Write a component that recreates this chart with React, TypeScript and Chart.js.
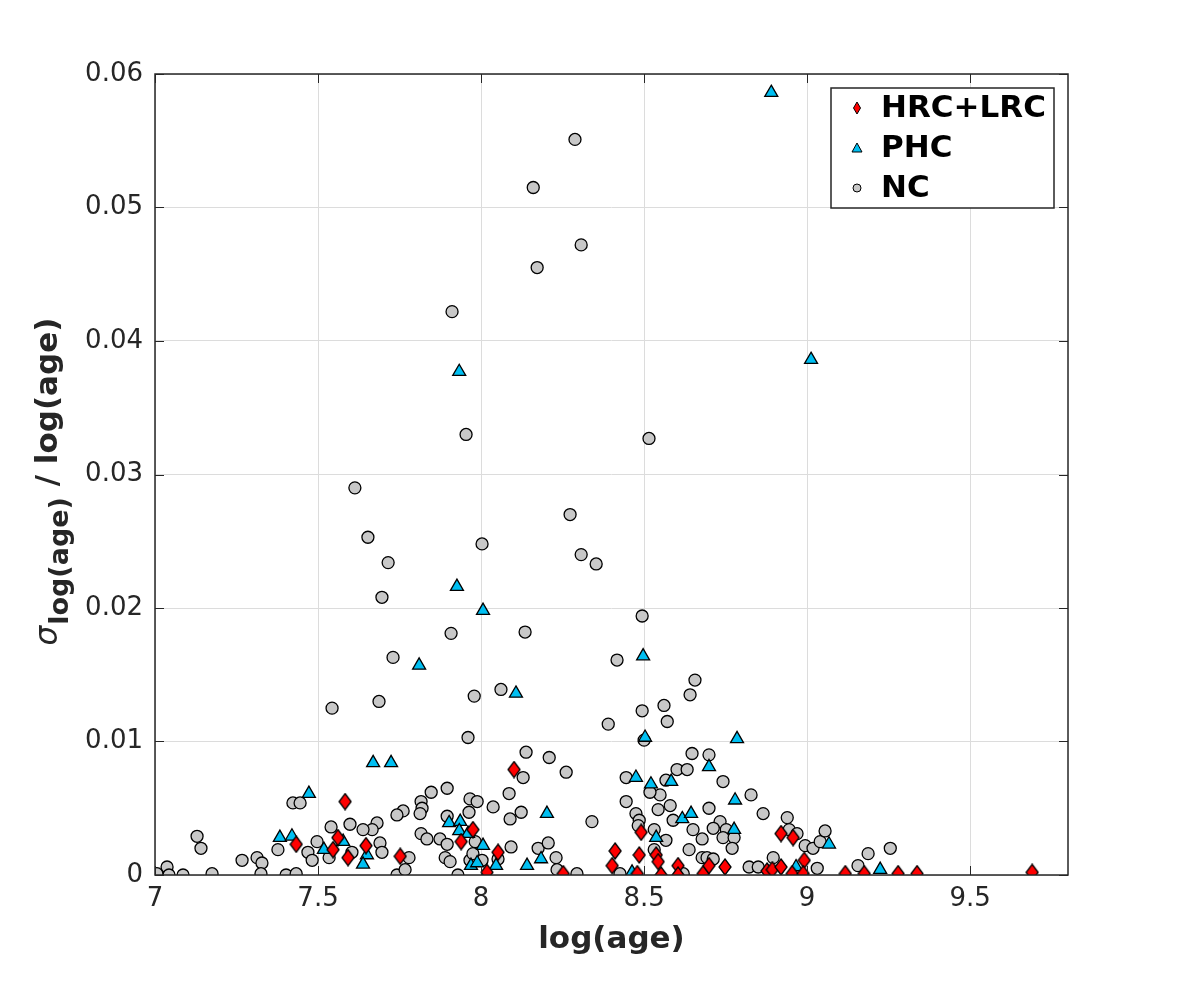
import React, { useEffect, useRef } from 'react';
import { Chart, registerables } from 'chart.js';
Chart.register(...registerables);

const xTicks = [7, 7.5, 8, 8.5, 9, 9.5];
const xTickLabels = ['7', '7.5', '8', '8.5', '9', '9.5'];
const yTicks = [0, 0.01, 0.02, 0.03, 0.04, 0.05, 0.06];
const yTickLabels = ['0', '0.01', '0.02', '0.03', '0.04', '0.05', '0.06'];
const seriesNames = ['HRC+LRC', 'PHC', 'NC'];

const hrcX = [8.101,7.583,7.433,7.561,7.546,7.592,7.647,7.975,7.939,8.052,7.752,8.018,8.252,8.491,8.920,8.957,8.411,8.485,8.537,8.543,8.402,8.479,8.552,8.604,8.604,8.681,8.699,8.748,8.877,8.893,8.920,8.954,8.991,8.988,9.117,9.175,9.279,9.337,9.690];
const hrcY = [0.0079,0.0055,0.0023,0.0028,0.0019,0.0013,0.0022,0.0034,0.0025,0.0017,0.0014,0.0002,0.0001,0.0032,0.0031,0.0028,0.0018,0.0015,0.0015,0.0010,0.0007,0.0001,0.0000,0.0007,0.0000,0.0001,0.0007,0.0006,0.0003,0.0004,0.0006,0.0001,0.0011,0.0001,0.0001,0.0001,0.0001,0.0001,0.0002];

const phcX = [8.890,9.012,7.933,7.926,8.006,8.497,7.810,8.107,8.503,8.785,7.669,7.724,8.699,8.475,8.521,8.583,8.779,8.617,8.644,8.776,8.537,8.966,8.463,9.067,9.224,7.472,7.383,7.420,7.518,7.577,7.650,7.638,8.202,7.902,7.936,7.933,7.960,8.006,7.969,7.988,8.046,8.141,8.184];
const phcY = [0.0586,0.0386,0.0377,0.0216,0.0198,0.0164,0.0157,0.0136,0.0103,0.0102,0.0084,0.0084,0.0081,0.0073,0.0068,0.0070,0.0056,0.0042,0.0046,0.0034,0.0028,0.0006,0.0002,0.0023,0.0004,0.0061,0.0028,0.0029,0.0019,0.0025,0.0015,0.0008,0.0046,0.0039,0.0040,0.0033,0.0031,0.0022,0.0007,0.0009,0.0007,0.0007,0.0012];

const ncX = [8.288,8.160,8.307,8.172,7.911,7.954,8.515,7.613,8.273,7.653,8.003,8.307,8.353,7.715,7.696,7.908,8.135,8.494,8.417,7.730,
  7.687,7.543,7.979,8.061,8.656,8.641,8.561,8.494,8.571,8.390,7.960,8.500,8.138,8.209,8.261,8.129,8.086,8.037,8.123,8.089,
  8.340,7.896,7.847,7.816,7.819,7.813,7.761,7.742,7.681,7.666,7.690,7.696,7.779,7.816,7.834,7.874,7.896,7.896,7.966,7.988,
  7.963,7.890,7.905,7.966,8.003,7.975,8.092,8.175,8.206,8.230,8.233,8.294,7.742,7.767,7.929,8.052,7.982,
  8.647,8.699,8.601,8.632,8.445,8.567,8.742,8.549,8.518,8.828,8.445,8.580,8.543,8.699,8.475,8.865,8.939,8.485,8.589,
  8.482,8.531,8.650,8.733,8.712,8.752,8.945,8.969,8.567,8.678,8.742,8.776,8.994,9.018,9.040,8.770,8.638,8.678,8.693,8.712,
  8.896,8.822,8.850,9.031,8.426,8.620,8.531,9.055,9.156,9.187,9.255,
  7.006,7.037,7.043,7.086,7.129,7.141,7.175,7.267,7.313,7.328,7.325,7.377,7.402,7.433,7.423,7.445,7.469,7.482,7.497,7.540,
  7.534,7.598,7.638,7.604];
const ncY = [0.0551,0.0515,0.0472,0.0455,0.0422,0.0330,0.0327,0.0290,0.0270,0.0253,0.0248,0.0240,0.0233,0.0234,0.0208,0.0181,0.0182,0.0194,0.0161,0.0163,
  0.0130,0.0125,0.0134,0.0139,0.0146,0.0135,0.0127,0.0123,0.0115,0.0113,0.0103,0.0101,0.0092,0.0088,0.0077,0.0073,0.0061,0.0051,0.0047,0.0042,
  0.0040,0.0065,0.0062,0.0055,0.0050,0.0046,0.0048,0.0045,0.0039,0.0034,0.0024,0.0017,0.0013,0.0031,0.0027,0.0027,0.0023,0.0044,0.0057,0.0055,
  0.0047,0.0013,0.0010,0.0011,0.0011,0.0016,0.0021,0.0020,0.0024,0.0013,0.0004,0.0001,0.0000,0.0004,0.0000,0.0012,0.0025,
  0.0091,0.0090,0.0079,0.0079,0.0073,0.0071,0.0070,0.0060,0.0062,0.0060,0.0055,0.0052,0.0049,0.0050,0.0046,0.0046,0.0043,0.0041,0.0041,
  0.0037,0.0034,0.0034,0.0040,0.0035,0.0034,0.0034,0.0031,0.0026,0.0027,0.0028,0.0028,0.0022,0.0020,0.0025,0.0020,0.0019,0.0013,0.0013,0.0012,
  0.0013,0.0006,0.0006,0.0005,0.0001,0.0001,0.0019,0.0033,0.0007,0.0016,0.0020,
  0.0001,0.0006,0.0000,0.0000,0.0029,0.0020,0.0001,0.0011,0.0013,0.0009,0.0001,0.0019,0.0000,0.0001,0.0054,0.0054,0.0017,0.0011,0.0025,0.0036,
  0.0013,0.0038,0.0034,0.0017];

const RED = '#ff0000';
const CYAN = '#00bff2';
const GRAY = '#c8c8c8';
const FONT = "'DejaVu Sans', sans-serif";

function zip(xs: number[], ys: number[]) {
  return xs.map((x, i) => ({ x, y: ys[i] }));
}

function makeDiamond(w: number, h: number) {
  const c = document.createElement('canvas');
  c.width = w + 2;
  c.height = h + 2;
  const g = c.getContext('2d')!;
  const cx = c.width / 2, cy = c.height / 2;
  g.beginPath();
  g.moveTo(cx, cy - h / 2);
  g.lineTo(cx + w / 2, cy);
  g.lineTo(cx, cy + h / 2);
  g.lineTo(cx - w / 2, cy);
  g.closePath();
  g.fillStyle = RED;
  g.fill();
  g.lineWidth = 1.3;
  g.strokeStyle = '#000';
  g.stroke();
  return c;
}

const framePlugin = {
  id: 'frame',
  afterDraw(chart: any) {
    const { ctx, chartArea } = chart;
    const { left, right, top, bottom } = chartArea;
    const xs = chart.scales.x;
    const ys = chart.scales.y;
    ctx.save();
    ctx.strokeStyle = '#262626';
    ctx.lineWidth = 1.5;
    ctx.strokeRect(left, top, right - left, bottom - top);
    ctx.lineWidth = 1;
    const tl = 9;
    ctx.beginPath();
    xTicks.forEach((v) => {
      const px = Math.round(xs.getPixelForValue(v)) + 0.5;
      ctx.moveTo(px, bottom); ctx.lineTo(px, bottom - tl);
      ctx.moveTo(px, top); ctx.lineTo(px, top + tl);
    });
    yTicks.forEach((v) => {
      const py = Math.round(ys.getPixelForValue(v)) + 0.5;
      ctx.moveTo(left, py); ctx.lineTo(left + tl, py);
      ctx.moveTo(right, py); ctx.lineTo(right - tl, py);
    });
    ctx.stroke();

    // x-axis title
    ctx.fillStyle = '#262626';
    ctx.font = `bold 31px ${FONT}`;
    ctx.textAlign = 'center';
    ctx.textBaseline = 'alphabetic';
    ctx.fillText('log(age)', (left + right) / 2, 948);

    // y-axis title with subscript
    ctx.save();
    ctx.translate(57, 482);
    ctx.rotate(-Math.PI / 2);
    ctx.textAlign = 'left';
    ctx.textBaseline = 'alphabetic';
    const fSig = `italic 31px ${FONT}`;
    const fSub = `bold 27px ${FONT}`;
    const fMain = `bold 31px ${FONT}`;
    ctx.font = fSig; const w1 = ctx.measureText('σ').width;
    ctx.font = fSub; const w2 = ctx.measureText('log(age)').width;
    ctx.font = fMain; const w3 = ctx.measureText(' / log(age)').width;
    let u = -(w1 + w2 + w3) / 2;
    ctx.font = fSig; ctx.fillText('σ', u, 0); u += w1 + 1;
    ctx.font = fSub; ctx.fillText('log(age)', u, 11); u += w2;
    ctx.font = fMain; ctx.fillText(' / log(age)', u, 0);
    ctx.restore();

    // legend
    const bx = 831, by = 88, bw = 223, bh = 120;
    ctx.fillStyle = '#ffffff';
    ctx.fillRect(bx, by, bw, bh);
    ctx.strokeStyle = '#262626';
    ctx.lineWidth = 1.5;
    ctx.strokeRect(bx, by, bw, bh);
    const rows = [108, 148, 188];
    const mx = 857;
    ctx.lineWidth = 1;
    ctx.strokeStyle = '#000';
    ctx.beginPath();
    ctx.moveTo(mx, rows[0] - 6); ctx.lineTo(mx + 3.5, rows[0]); ctx.lineTo(mx, rows[0] + 6); ctx.lineTo(mx - 3.5, rows[0]); ctx.closePath();
    ctx.fillStyle = RED; ctx.fill(); ctx.stroke();
    ctx.beginPath();
    ctx.moveTo(mx, rows[1] - 5); ctx.lineTo(mx + 5, rows[1] + 4); ctx.lineTo(mx - 5, rows[1] + 4); ctx.closePath();
    ctx.fillStyle = CYAN; ctx.fill(); ctx.stroke();
    ctx.beginPath();
    ctx.arc(mx, rows[2], 4, 0, Math.PI * 2);
    ctx.fillStyle = GRAY; ctx.fill(); ctx.stroke();
    ctx.fillStyle = '#000';
    ctx.font = `bold 31px ${FONT}`;
    ctx.textAlign = 'left';
    ctx.textBaseline = 'middle';
    seriesNames.forEach((n, i) => ctx.fillText(n, 881, rows[i] + 1));
    ctx.restore();
  },
};

export default function App() {
  const ref = useRef<HTMLCanvasElement | null>(null);
  useEffect(() => {
    if (!ref.current) return;
    const diamond = makeDiamond(12, 16);
    const chart = new Chart(ref.current, {
      type: 'scatter',
      data: {
        datasets: [
          {
            label: seriesNames[0],
            data: zip(hrcX, hrcY),
            pointStyle: diamond as any,
            pointRadius: 7,
            backgroundColor: RED,
            borderColor: '#000',
            order: 1,
          },
          {
            label: seriesNames[1],
            data: zip(phcX, phcY),
            pointStyle: 'triangle',
            pointRadius: 7.5,
            backgroundColor: CYAN,
            borderColor: '#000',
            borderWidth: 1.3,
            order: 2,
          },
          {
            label: seriesNames[2],
            data: zip(ncX, ncY),
            pointStyle: 'circle',
            pointRadius: 6,
            backgroundColor: GRAY,
            borderColor: '#000',
            borderWidth: 1.3,
            order: 3,
          },
        ],
      },
      options: {
        animation: false,
        responsive: false,
        devicePixelRatio: 1,
        layout: { padding: { left: 0, right: 113, top: 74, bottom: 0 } },
        plugins: { legend: { display: false }, tooltip: { enabled: false } },
        scales: {
          x: {
            type: 'linear',
            min: 7,
            max: 9.8,
            afterBuildTicks: (s: any) => { s.ticks = xTicks.map((v) => ({ value: v })); },
            afterFit: (s: any) => { s.height = 109; },
            ticks: {
              color: '#262626',
              font: { family: FONT, size: 26 },
              padding: 9,
              maxRotation: 0,
              autoSkip: false,
              callback: (v: any) => { const i = xTicks.indexOf(Number(v)); return i >= 0 ? xTickLabels[i] : ''; },
            },
            grid: { color: '#dcdcdc', lineWidth: 1, drawTicks: false },
            border: { display: false },
          },
          y: {
            type: 'linear',
            min: 0,
            max: 0.06,
            afterBuildTicks: (s: any) => { s.ticks = yTicks.map((v) => ({ value: v })); },
            afterFit: (s: any) => { s.width = 155; },
            ticks: {
              color: '#262626',
              font: { family: FONT, size: 26 },
              padding: 12,
              autoSkip: false,
              callback: (v: any) => {
                const i = yTicks.findIndex((t) => Math.abs(t - Number(v)) < 1e-9);
                return i >= 0 ? yTickLabels[i] : '';
              },
            },
            grid: { color: '#dcdcdc', lineWidth: 1, drawTicks: false },
            border: { display: false },
          },
        },
      },
      plugins: [framePlugin],
    });
    return () => chart.destroy();
  }, []);
  return (
    <div style={{ position: 'fixed', left: 0, top: 0, width: 1181, height: 984, background: '#fff' }}>
      <canvas ref={ref} width={1181} height={984} style={{ display: 'block' }} />
    </div>
  );
}
